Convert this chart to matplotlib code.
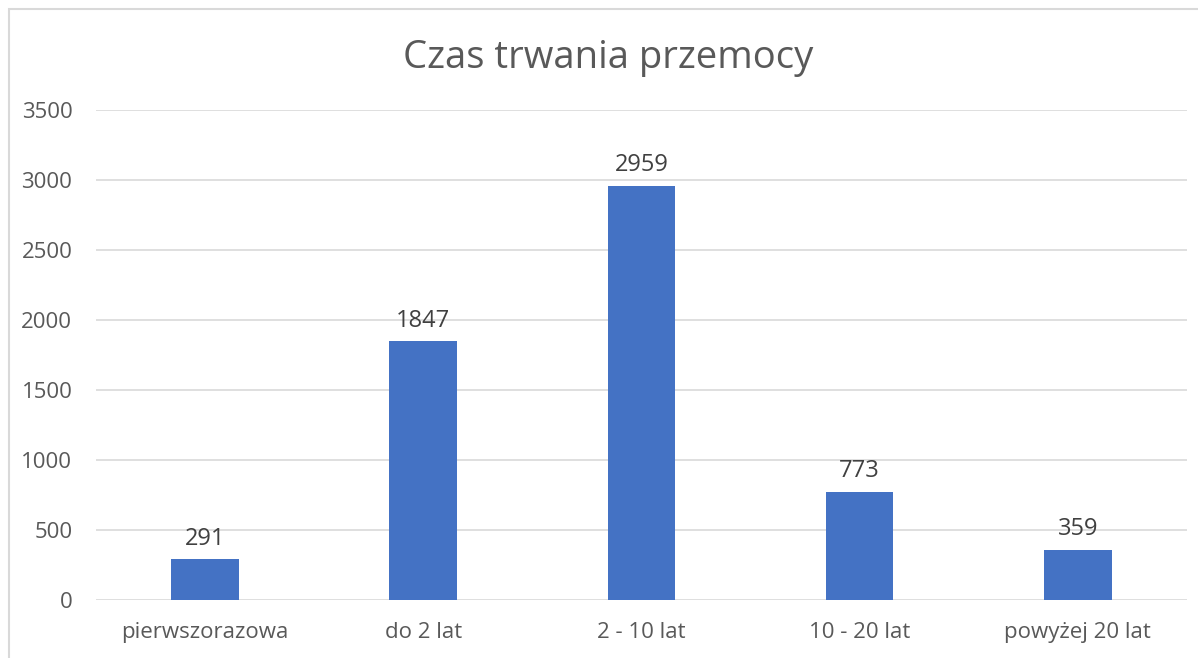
import matplotlib
matplotlib.use('Agg')
import matplotlib.pyplot as plt
from matplotlib.patches import Rectangle

categories = ['pierwszorazowa', 'do 2 lat', '2 - 10 lat', '10 - 20 lat', 'powyżej 20 lat']
values = [291, 1847, 2959, 773, 359]
yticks = [0, 500, 1000, 1500, 2000, 2500, 3000, 3500]

plt.rcParams['font.family'] = ['Open Sans', 'DejaVu Sans']
text_color = '#595959'

fig = plt.figure(figsize=(11.98, 6.58), dpi=100)
ax = fig.add_axes([0.0801, 0.0881, 0.9107, 0.7447])

x = range(len(categories))
bars = ax.bar(x, values, width=0.31, color='#4472C4', zorder=3)
for xi, v in zip(x, values):
    ax.annotate(str(v), (xi, v), xytext=(0, 6), textcoords='offset points',
                ha='center', va='bottom', fontsize=17, color='#404040')

ax.set_xlim(-0.5, len(categories) - 0.5)
ax.set_ylim(0, 3500)
ax.set_yticks(yticks)
ax.set_xticks(list(x))
ax.set_xticklabels(categories)
ax.yaxis.grid(True, color='#D9D9D9', linewidth=1.2, zorder=0)
ax.tick_params(axis='both', length=0, labelsize=16, colors=text_color)
ax.tick_params(axis='y', pad=17)
ax.tick_params(axis='x', pad=16)
for s in ax.spines.values():
    s.set_visible(False)

fig.text(0.508, 0.912, 'Czas trwania przemocy', ha='center', va='center',
         fontsize=27.5, color=text_color)

# light chart border
fig.patches.append(Rectangle((9 / 1198, -0.01), 1.1, 1 - 9 / 658 + 0.01,
                             transform=fig.transFigure, fill=False,
                             edgecolor='#D9D9D9', linewidth=1.5))

fig.savefig('out.png', dpi=100)
